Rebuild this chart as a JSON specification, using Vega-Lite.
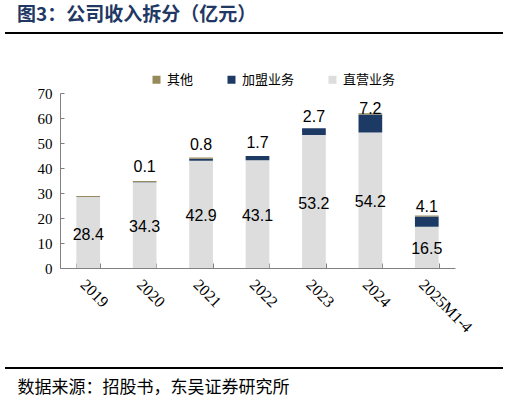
{
  "$schema": "https://vega.github.io/schema/vega-lite/v6.json",
  "width": 395,
  "height": 175,
  "autosize": "none",
  "padding": {"left": 60, "top": 93, "right": 55, "bottom": 133},
  "background": "white",
  "title": {
    "text": "图3：公司收入拆分（亿元）",
    "anchor": "start",
    "frame": "group",
    "dx": -43,
    "offset": 7,
    "font": "Noto Sans CJK SC",
    "fontSize": 19,
    "fontWeight": "bold",
    "color": "#1f3864"
  },
  "config": {
    "view": {"stroke": null},
    "axis": {"grid": false},
    "axisY": {
      "values": [0, 10, 20, 30, 40, 50, 60, 70],
      "labelFont": "Liberation Serif",
      "labelFontSize": 15,
      "labelColor": "black",
      "labelPadding": 12,
      "tickSize": -4,
      "domainColor": "#808080",
      "tickColor": "#808080"
    }
  },
  "data": {
    "values": [
      {"year": "2019", "series": "直营业务", "value": 28.4, "k": 1},
      {"year": "2019", "series": "加盟业务", "value": 0, "k": 2},
      {"year": "2019", "series": "其他", "value": 0.4, "k": 3},
      {"year": "2020", "series": "直营业务", "value": 34.3, "k": 1},
      {"year": "2020", "series": "加盟业务", "value": 0.1, "k": 2},
      {"year": "2020", "series": "其他", "value": 0.4, "k": 3},
      {"year": "2021", "series": "直营业务", "value": 42.9, "k": 1},
      {"year": "2021", "series": "加盟业务", "value": 0.8, "k": 2},
      {"year": "2021", "series": "其他", "value": 0.5, "k": 3},
      {"year": "2022", "series": "直营业务", "value": 43.1, "k": 1},
      {"year": "2022", "series": "加盟业务", "value": 1.7, "k": 2},
      {"year": "2022", "series": "其他", "value": 0, "k": 3},
      {"year": "2023", "series": "直营业务", "value": 53.2, "k": 1},
      {"year": "2023", "series": "加盟业务", "value": 2.7, "k": 2},
      {"year": "2023", "series": "其他", "value": 0, "k": 3},
      {"year": "2024", "series": "直营业务", "value": 54.2, "k": 1},
      {"year": "2024", "series": "加盟业务", "value": 7.2, "k": 2},
      {"year": "2024", "series": "其他", "value": 0.5, "k": 3},
      {"year": "2025M1-4", "series": "直营业务", "value": 16.5, "k": 1},
      {"year": "2025M1-4", "series": "加盟业务", "value": 4.1, "k": 2},
      {"year": "2025M1-4", "series": "其他", "value": 0.4, "k": 3}
    ]
  },
  "transform": [
    {"stack": "value", "groupby": ["year"], "sort": [{"field": "k", "order": "ascending"}], "as": ["v0", "v1"]},
    {"calculate": "(datum.v0 + datum.v1) / 2", "as": "mid"}
  ],
  "encoding": {
    "x": {
      "field": "year",
      "type": "ordinal",
      "sort": null,
      "scale": {"paddingInner": 0.58, "paddingOuter": 0.29},
      "axis": {
        "title": "数据来源：招股书，东吴证券研究所",
        "titleX": -43,
        "titleY": 119,
        "titleAnchor": "start",
        "titleAlign": "left",
        "titleBaseline": "middle",
        "titleFont": "Noto Sans CJK SC",
        "titleFontSize": 17,
        "titleFontWeight": "normal",
        "titleColor": "black",
        "labelAngle": 45,
        "labelAlign": "left",
        "labelBaseline": "top",
        "labelFont": "Liberation Serif",
        "labelFontSize": 16,
        "labelColor": "black",
        "labelPadding": 13,
        "tickBand": "extent",
        "tickSize": -5,
        "domainColor": "#808080",
        "tickColor": "#808080"
      }
    }
  },
  "layer": [
    {
      "mark": {"type": "bar"},
      "encoding": {
        "y": {
          "field": "v1",
          "type": "quantitative",
          "title": null,
          "scale": {"domain": [0, 70]}
        },
        "y2": {"field": "v0"},
        "color": {
          "field": "series",
          "type": "nominal",
          "scale": {
            "domain": ["其他", "加盟业务", "直营业务"],
            "range": ["#978a5a", "#1c3a63", "#dddddd"]
          },
          "legend": {
            "title": null,
            "orient": "none",
            "direction": "horizontal",
            "legendX": 90,
            "legendY": -20,
            "symbolType": "square",
            "symbolSize": 64,
            "symbolStrokeWidth": 0,
            "labelFont": "Noto Sans CJK SC",
            "labelFontSize": 13,
            "labelColor": "black",
            "labelOffset": 4,
            "columnPadding": 31
          }
        }
      }
    },
    {
      "transform": [{"filter": "datum.k === 1"}],
      "mark": {"type": "text", "font": "Liberation Sans", "fontSize": 16, "color": "black", "baseline": "middle", "dy": 2},
      "encoding": {
        "y": {"field": "mid", "type": "quantitative", "title": null},
        "text": {"field": "value", "type": "quantitative", "format": ".1f"}
      }
    },
    {
      "transform": [{"filter": "datum.k === 2 && datum.value > 0"}],
      "mark": {"type": "text", "font": "Liberation Sans", "fontSize": 16, "color": "black", "baseline": "middle", "dy": -15},
      "encoding": {
        "y": {"field": "mid", "type": "quantitative", "title": null},
        "text": {"field": "value", "type": "quantitative", "format": ".1f"}
      }
    },
    {
      "transform": [{"filter": "datum.k === 1 && datum.year === '2019'"}],
      "mark": {"type": "rule", "color": "black", "strokeWidth": 2},
      "encoding": {
        "x": {"value": -55},
        "x2": {"value": 443},
        "y": {"value": -60}
      }
    },
    {
      "transform": [{"filter": "datum.k === 1 && datum.year === '2019'"}],
      "mark": {"type": "rule", "color": "black", "strokeWidth": 2},
      "encoding": {
        "x": {"value": -55},
        "x2": {"value": 443},
        "y": {"value": 275}
      }
    }
  ]
}
